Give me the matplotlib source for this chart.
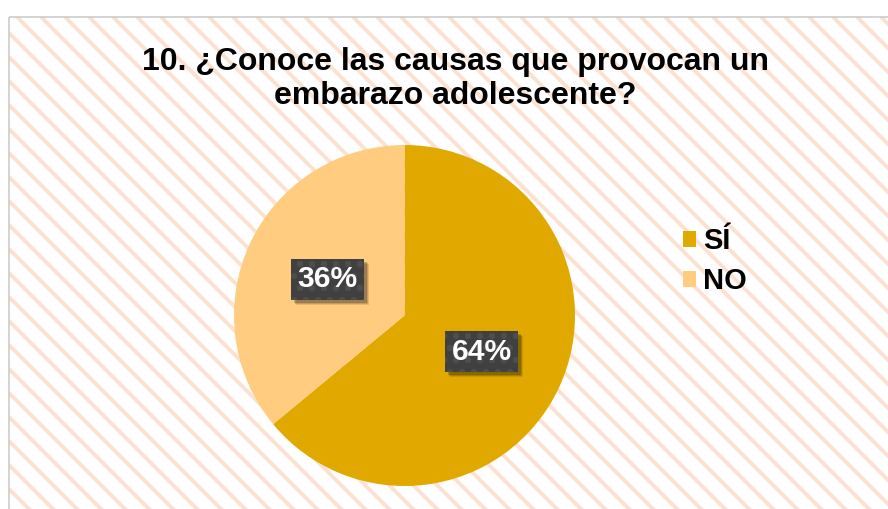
import matplotlib.pyplot as plt
from matplotlib.patches import Rectangle
from matplotlib.transforms import IdentityTransform

# data
labels = ['SÍ', 'NO']
values = [64, 36]
colors = ['#E1A900', '#FFCC80']
title = '10. ¿Conoce las causas que provocan un\nembarazo adolescente?'

W, H, DPI = 888, 509, 72
plt.rcParams['font.family'] = ['Liberation Sans', 'DejaVu Sans']
plt.rcParams['hatch.linewidth'] = 3.8

fig = plt.figure(figsize=(W / DPI, H / DPI), dpi=DPI)
fig.patch.set_facecolor('white')

# background with diagonal stripes
bg = fig.add_axes([0, 0, 1, 1])
bg.set_xlim(0, W)
bg.set_ylim(H, 0)
bg.axis('off')
bg.add_patch(Rectangle((9, 17), 900, 520, facecolor='white',
                       edgecolor='#FCE1D1', hatch='\\', linewidth=0))
bg.add_patch(Rectangle((9, 17), 900, 520, facecolor='none',
                       edgecolor='#C8C8C8', linewidth=1.5))

# pie
cx, cy, r = 404.5, 315.5, 170.5
ax = fig.add_axes([(cx - r) / W, (H - cy - r) / H, 2 * r / W, 2 * r / H])
wedges, _, autotexts = ax.pie(values, colors=colors, startangle=90,
                              counterclock=False, autopct='%d%%',
                              pctdistance=0.5, radius=1,
                              wedgeprops=dict(linewidth=0))
ax.set_xlim(-1, 1)
ax.set_ylim(-1, 1)
for t in autotexts:
    t.set_color('white')
    t.set_fontsize(30)
    t.set_fontweight('bold')
    t.set_zorder(5)
    t.set_bbox(dict(boxstyle='square,pad=0.22', facecolor='#404040',
                    edgecolor='#4E4E4E', hatch='.', linewidth=0))

fig.text(455 / W, 1 - 79 / H, title, ha='center', va='center',
         fontsize=32, fontweight='bold', linespacing=1.15)

fig.legend(wedges, labels, loc='upper left', bbox_to_anchor=(657 / W, 1 - 201 / H),
           frameon=False, prop=dict(weight='bold', size=29),
           handlelength=0.45, handleheight=0.45, handletextpad=0.25,
           labelspacing=0.42)

# soft shadow behind the label boxes
fig.canvas.draw()
for t in autotexts:
    bb = t.get_bbox_patch().get_window_extent()
    for k, a in [(5, 0.10), (4, 0.15), (3, 0.2)]:
        ax.add_artist(Rectangle((bb.x0 + k, bb.y0 - k), bb.width, bb.height,
                                transform=IdentityTransform(), facecolor='black',
                                alpha=a, linewidth=0, zorder=4))

fig.savefig('out.png', dpi=DPI)
